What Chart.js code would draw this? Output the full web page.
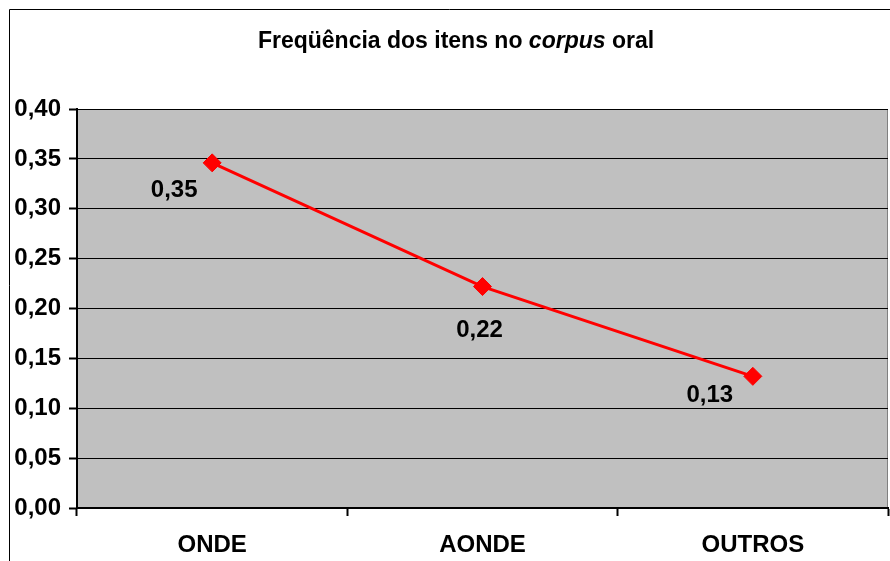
<!DOCTYPE html>
<html>
<head>
<meta charset="utf-8">
<script src="https://cdn.jsdelivr.net/npm/chart.js@4.4.1/dist/chart.umd.min.js"></script>
<style>
  html, body { margin: 0; padding: 0; background: #fff; }
  #wrap { width: 890px; height: 561px; }
</style>
</head>
<body>
<div id="wrap"><canvas id="myChart" width="890" height="561"></canvas></div>
<script>
const categories = ['ONDE', 'AONDE', 'OUTROS'];
const frequencies = [0.346, 0.222, 0.132];
const valueLabels = ['0,35', '0,22', '0,13'];
const yTicks = [0, 0.05, 0.10, 0.15, 0.20, 0.25, 0.30, 0.35, 0.40];

const FONT = '"Liberation Sans", Arial, sans-serif';

// offsets of the value labels from their points (like Excel placed them)
const labelOffsets = [[-38, 28], [-3, 44], [-43, 19]];

const frame = {
  id: 'frame',
  beforeDraw(chart) {
    const c = chart.ctx;
    const a = chart.chartArea;
    c.save();
    c.fillStyle = '#fff';
    c.fillRect(0, 0, chart.width, chart.height);
    c.fillStyle = '#c0c0c0';
    c.fillRect(a.left, a.top, a.right - a.left, a.bottom - a.top);
    // plot area border (grey)
    c.strokeStyle = '#808080';
    c.lineWidth = 1;
    c.strokeRect(a.left + 0.5, a.top + 0.5, a.right - a.left - 1, a.bottom - a.top);
    // outer chart border
    c.strokeStyle = '#000';
    c.lineWidth = 1;
    c.beginPath();
    c.moveTo(9.5, chart.height);
    c.lineTo(9.5, 9.5);
    c.lineTo(chart.width, 9.5);
    c.stroke();
    c.restore();
  },
  afterDraw(chart) {
    const c = chart.ctx;
    c.save();
    c.fillStyle = '#000';
    c.textBaseline = 'middle';
    const parts = [
      ['Freqüência dos itens no ', 'bold 23px ' + FONT],
      ['corpus', 'italic bold 23px ' + FONT],
      [' oral', 'bold 23px ' + FONT]
    ];
    let total = 0;
    parts.forEach(p => { c.font = p[1]; total += c.measureText(p[0]).width; });
    let x = 456 - total / 2;
    c.textAlign = 'left';
    parts.forEach(p => {
      c.font = p[1];
      c.fillText(p[0], x, 42);
      x += c.measureText(p[0]).width;
    });
    c.restore();
  },
  afterDatasetsDraw(chart) {
    const c = chart.ctx;
    const pts = chart.getDatasetMeta(0).data;
    c.save();
    c.font = 'bold 24px ' + FONT;
    c.fillStyle = '#000';
    c.textAlign = 'center';
    c.textBaseline = 'middle';
    pts.forEach((p, i) => {
      c.fillText(valueLabels[i], p.x + labelOffsets[i][0], p.y + labelOffsets[i][1]);
    });
    c.restore();
  }
};

const ctx = document.getElementById('myChart').getContext('2d');

const myChart = new Chart(ctx, {
  type: 'line',
  data: {
    labels: categories,
    datasets: [{
      data: frequencies,
      borderColor: '#ff0000',
      backgroundColor: '#ff0000',
      borderWidth: 3,
      pointStyle: 'rectRot',
      pointRadius: 9,
      pointHoverRadius: 9,
      pointBorderWidth: 1,
      tension: 0
    }]
  },
  options: {
    responsive: false,
    animation: false,
    layout: { autoPadding: false, padding: { top: 109, right: 2, left: 0, bottom: 0 } },
    plugins: {
      legend: { display: false },
      tooltip: { enabled: false }
    },
    scales: {
      x: {
        offset: true,
        afterFit: s => { s.height = 53; s.paddingLeft = 0; s.paddingRight = 0; },
        border: { color: '#000', width: 2 },
        grid: {
          offset: true,
          drawOnChartArea: false,
          tickLength: 8,
          tickColor: '#000',
          tickWidth: 2
        },
        ticks: {
          color: '#000',
          font: { family: FONT, size: 24, weight: 'bold' },
          padding: 15
        }
      },
      y: {
        min: 0,
        max: 0.4,
        afterFit: s => { s.width = 77; s.paddingTop = 0; s.paddingBottom = 0; },
        afterBuildTicks: s => { s.ticks = yTicks.map(v => ({ value: v })); },
        border: { color: '#000', width: 2 },
        grid: {
          color: '#000',
          lineWidth: 1,
          tickLength: 8,
          tickColor: '#000',
          tickWidth: 2
        },
        ticks: {
          color: '#000',
          font: { family: FONT, size: 24, weight: 'bold' },
          padding: 8,
          callback: v => v.toFixed(2).replace('.', ',')
        }
      }
    }
  },
  plugins: [frame]
});
</script>
</body>
</html>
